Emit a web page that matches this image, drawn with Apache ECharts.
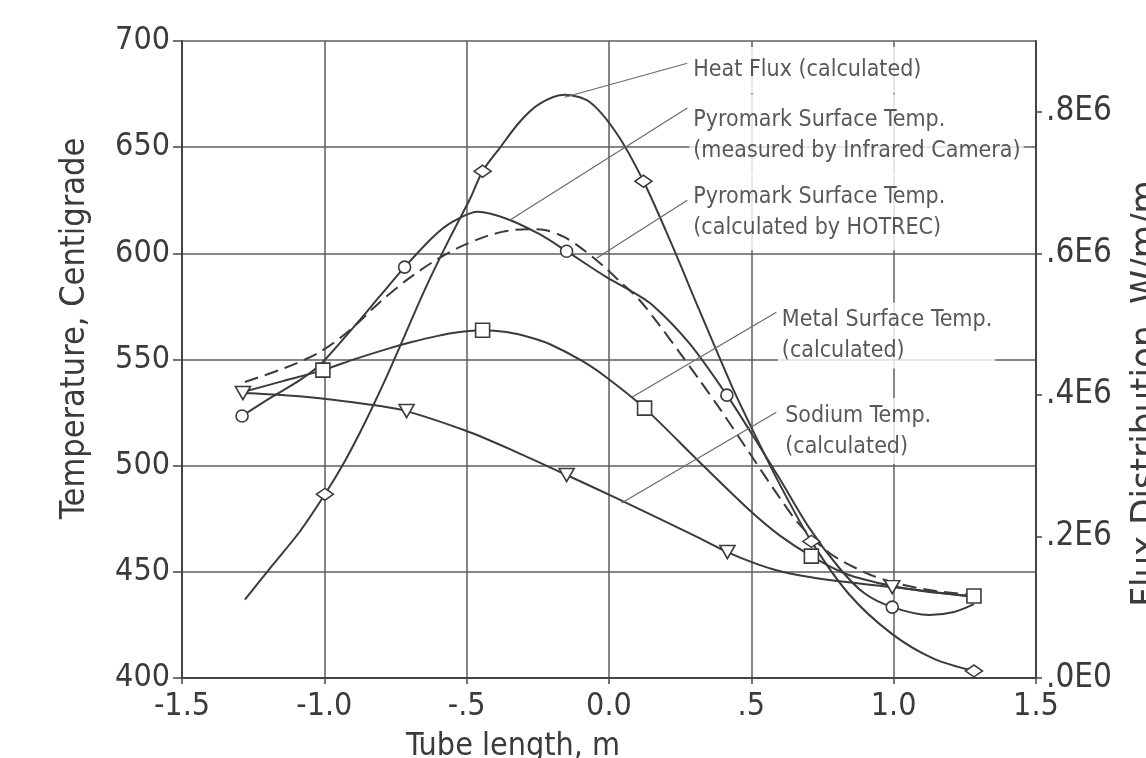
<!DOCTYPE html>
<html><head><meta charset="utf-8">
<script src="https://cdn.jsdelivr.net/npm/echarts@6/dist/echarts.min.js"></script>
<style>html,body{margin:0;padding:0;background:#fff;}#c{width:1146px;height:758px;}</style>
</head><body><div id="c"></div>
<script>
// ---- tick labels ----
const xTickValues = [-1.5, -1.0, -0.5, 0.0, 0.5, 1.0, 1.5];
const xTickLabels = ['-1.5', '-1.0', '-.5', '0.0', '.5', '1.0', '1.5'];
const fluxTickValues = [0, 200000, 400000, 600000, 800000];
const fluxTickLabels = ['.0E0', '.2E6', '.4E6', '.6E6', '.8E6'];

// ---- curves (x: tube length m, temperature C, flux W/m/m) ----
const heatFluxCurve = [[-1.279,110600],[-1.191,155000],[-1.086,207000],[-0.998,259500],[-0.928,306300],[-0.858,360200],[-0.788,419700],[-0.718,483500],[-0.647,548800],[-0.560,621100],[-0.489,676400],[-0.444,716000],[-0.384,748700],[-0.314,785600],[-0.244,811100],[-0.156,823900],[-0.068,813900],[0.026,770000],[0.121,701900],[0.219,614000],[0.318,519000],[0.433,411000],[0.493,360000],[0.598,275000],[0.711,193000],[0.844,118000],[0.995,62000],[1.142,27000],[1.282,10000]];
const heatFluxMarks = [[-0.998,259500],[-0.444,716000],[0.121,701900],[0.711,193000],[1.282,10000]];

const hotrecCurve = [[-1.289,523.4],[-1.191,531.8],[-1.086,540.3],[-1.016,547.4],[-0.9,564.8],[-0.805,579.8],[-0.718,593.5],[-0.619,607.6],[-0.549,614.9],[-0.461,619.6],[-0.360,616.3],[-0.244,609.0],[-0.149,601.0],[-0.009,588.8],[0.072,582.7],[0.153,575.6],[0.282,557.7],[0.414,533.2],[0.493,516.8],[0.598,494.2],[0.704,470.6],[0.809,451.8],[0.896,440.0],[0.995,433.4],[1.125,429.7],[1.212,431.1],[1.282,434.8]];
const hotrecMarks = [[-1.289,523.4],[-0.718,593.5],[-0.149,601.0],[0.414,533.2],[0.995,433.4]];

const infraredCurve = [[-1.279,539.4],[-1.139,546.0],[-1.016,553.5],[-0.911,563.8],[-0.805,577.0],[-0.711,587.4],[-0.619,595.9],[-0.525,602.9],[-0.430,608.1],[-0.360,610.5],[-0.289,611.4],[-0.226,611.0],[-0.156,607.6],[-0.093,602.0],[-0.023,594.4],[0.037,586.9],[0.107,578.0],[0.177,566.2],[0.247,553.5],[0.318,540.3],[0.388,527.1],[0.482,508.3],[0.598,485.2],[0.668,472.5],[0.774,458.9],[0.904,449.4],[0.995,445.2],[1.125,441.4],[1.282,439.1]];

const metalCurve = [[-1.286,534.7],[-1.146,539.8],[-1.005,545.0],[-0.893,550.2],[-0.781,554.9],[-0.693,558.2],[-0.605,561.0],[-0.525,562.9],[-0.444,563.8],[-0.360,562.9],[-0.279,560.5],[-0.209,557.3],[-0.093,549.2],[-0.005,541.2],[0.125,527.1],[0.318,501.7],[0.493,479.1],[0.598,467.3],[0.711,457.4],[0.833,449.0],[0.995,443.3],[1.125,440.5],[1.282,438.6]];
const metalMarks = [[-1.005,545.0],[-0.444,563.8],[0.125,527.1],[0.711,457.4],[1.282,438.6]];

const sodiumCurve = [[-1.286,534.2],[-1.139,533.2],[-1.016,531.8],[-0.9,529.9],[-0.805,528.1],[-0.711,525.7],[-0.5,516.3],[-0.325,506.4],[-0.149,495.6],[0.026,484.7],[0.202,473.4],[0.318,465.9],[0.416,459.3],[0.511,454.1],[0.598,450.4],[0.704,447.6],[0.833,445.2],[0.995,442.8],[1.142,440.5],[1.282,438.1]];
const sodiumMarks = [[-1.286,534.2],[-0.711,525.7],[-0.149,495.6],[0.416,459.3],[0.995,442.8]];

// ---- annotations ----
const annoLabels = ['Heat Flux (calculated)', 'Pyromark Surface Temp.\n(measured by Infrared Camera)', 'Pyromark Surface Temp.\n(calculated by HOTREC)', 'Metal Surface Temp.\n(calculated)', 'Sodium Temp.\n(calculated)'];
const annoAnchors = [[0.282,686.3],[0.282,655.6],[0.282,619.4],[0.593,561.3],[0.605,516.3]];
const leaderFrom = [[-0.156,673.5],[-0.349,615.6],[-0.044,597.7],[0.082,532.3],[0.044,482.4]];
const leaderTo = [[0.275,689.5],[0.275,668.4],[0.275,625],[0.588,572.3],[0.588,525.2]];

const FONT = '"DejaVu Sans Condensed", "DejaVu Sans", sans-serif';
const INK = '#3b3b3b';
const GRIDC = '#5e5e5e';
const annoPadding = [[5,3,10,4],[6,3,14,4],[14,3,0,4],[4,3,0,4],[4,3,0,4]];

function curve(name, data, yAxisIndex, dashed) {
  return {type:'line', name, data, yAxisIndex, smooth:0.3, showSymbol:false, symbol:'none',
    lineStyle:{color:INK, width:2, type: dashed ? [14,7] : 'solid'}, z:3, silent:true};
}
function marks(data, symbol, size, rotate, yAxisIndex) {
  return {type:'scatter', data, yAxisIndex, symbol, symbolSize:size, symbolRotate:rotate,
    itemStyle:{color:'#fff', borderColor:INK, borderWidth:1.6, opacity:1}, z:5, silent:true};
}

const chart = echarts.init(document.getElementById('c'), null, {renderer:'canvas'});
chart.setOption({
  animation:false,
  backgroundColor:'#fff',
  grid:{left:182, right:110, top:41, bottom:80, containLabel:false, outerBoundsMode:'none'},
  xAxis:{type:'value', min:-1.5, max:1.5, interval:0.5,
    axisLine:{show:true, onZero:false, lineStyle:{color:'#444', width:2}},
    axisTick:{show:true, length:6, lineStyle:{color:'#444', width:1.5}},
    axisLabel:{fontFamily:FONT, fontSize:32, color:INK, margin:13,
      formatter:v => xTickLabels[Math.round((v - xTickValues[0]) / 0.5)]},
    splitLine:{show:true, lineStyle:{color:GRIDC, width:1.5}},
    name:'Tube length, m', nameLocation:'middle', nameGap:53,
    nameTextStyle:{fontFamily:FONT, fontSize:32, color:INK, padding:[0,192,0,0]}},
  yAxis:[
    {type:'value', min:400, max:700, interval:50, position:'left',
      axisLine:{show:true, onZero:false, lineStyle:{color:'#444', width:2}},
      axisTick:{show:true, length:9, lineStyle:{color:'#444', width:1.5}},
      axisLabel:{fontFamily:FONT, fontSize:32, color:INK, margin:12},
      splitLine:{show:true, lineStyle:{color:GRIDC, width:1.5}},
      name:'Temperature, Centigrade', nameLocation:'middle', nameGap:90, nameRotate:90,
      nameTextStyle:{fontFamily:FONT, fontSize:34, color:INK, padding:[0,0,0,62]}},
    {type:'value', min:0, max:900000, interval:200000, position:'right',
      axisLine:{show:true, onZero:false, lineStyle:{color:'#444', width:2}},
      axisTick:{show:true, length:6, lineStyle:{color:'#444', width:1.5}},
      axisLabel:{fontFamily:FONT, fontSize:33, color:INK, margin:10, showMaxLabel:false,
        formatter:v => { const i = fluxTickValues.indexOf(v); return i >= 0 ? fluxTickLabels[i] : ''; }},
      splitLine:{show:false},
      name:'Flux Distribution, W/m/m', nameLocation:'middle', nameGap:92, nameRotate:90,
      nameTextStyle:{fontFamily:FONT, fontSize:38, color:INK, padding:[0,68,0,0]}}
  ],
  series:[
    curve('Heat Flux (calculated)', heatFluxCurve, 1, false),
    marks(heatFluxMarks, 'diamond', [17,12], 0, 1),
    curve('Pyromark Surface Temp. (measured by Infrared Camera)', infraredCurve, 0, true),
    curve('Pyromark Surface Temp. (calculated by HOTREC)', hotrecCurve, 0, false),
    marks(hotrecMarks, 'circle', 12, 0, 0),
    curve('Metal Surface Temp. (calculated)', metalCurve, 0, false),
    marks(metalMarks, 'rect', 14, 0, 0),
    curve('Sodium Temp. (calculated)', sodiumCurve, 0, false),
    marks(sodiumMarks, 'triangle', [15,13], 180, 0),
    {type:'scatter', yAxisIndex:0, symbolSize:0, silent:true, z:6,
      data: annoAnchors.map((p, i) => ({value:p, name:annoLabels[i], label:{padding:annoPadding[i]}})),
      label:{show:true, position:'right', distance:0, formatter:'{b}', fontFamily:FONT,
        fontSize:23, lineHeight:31, color:'#2e2e2e', backgroundColor:'#fff'},
      markLine:{silent:true, symbol:['none','none'], label:{show:false},
        lineStyle:{color:'#6a6a6a', width:1.2, type:'solid'},
        data: leaderFrom.map((p, i) => [{coord:p}, {coord:leaderTo[i]}])}}
  ]
});
</script></body></html>
